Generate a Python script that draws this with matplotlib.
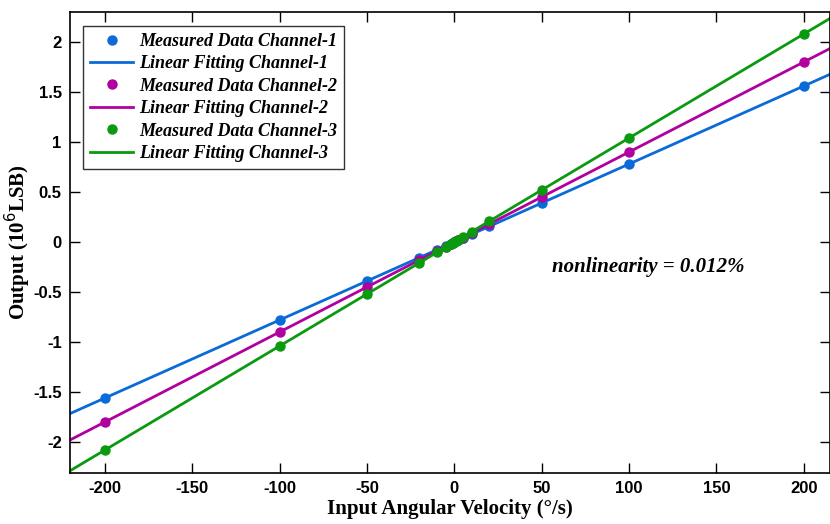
import numpy as np
import matplotlib.pyplot as plt

# input angular velocity (deg/s)
x_data = [-200, -100, -50, -20, -10, -5, -2, -1, 0, 1, 2, 5, 10, 20, 50, 100, 200]
# measured outputs (10^6 LSB)
ch1 = [-1.56, -0.78, -0.39, -0.156, -0.078, -0.039, -0.016, -0.008, 0.0,
       0.008, 0.016, 0.039, 0.078, 0.156, 0.39, 0.78, 1.56]
ch2 = [-1.80, -0.90, -0.45, -0.18, -0.09, -0.045, -0.018, -0.009, 0.0,
       0.009, 0.018, 0.045, 0.09, 0.18, 0.45, 0.90, 1.80]
ch3 = [-2.08, -1.04, -0.52, -0.208, -0.104, -0.052, -0.021, -0.010, 0.0,
       0.010, 0.021, 0.052, 0.104, 0.208, 0.52, 1.04, 2.08]
colors = ['#0a6bd8', '#b0009f', '#0a9a10']
names = ['Channel-1', 'Channel-2', 'Channel-3']

serif = ['Liberation Serif', 'DejaVu Serif']
sans = ['Liberation Sans', 'DejaVu Sans']

fig = plt.figure(figsize=(8.3, 5.24), dpi=100)
ax = fig.add_axes([0.0843, 0.0973, 0.9157, 0.8798])

xfit = np.array([-225, 225])
for y, c, n in zip([ch1, ch2, ch3], colors, names):
    k, b = np.polyfit(x_data, y, 1)
    ax.plot(x_data, y, 'o', color=c, markersize=6.5, label='Measured Data ' + n)
    ax.plot(xfit, k * xfit + b, '-', color=c, linewidth=2, label='Linear Fitting ' + n)

ax.set_xlim(-220, 215)
ax.set_ylim(-2.31, 2.3)
ax.set_xticks([-200, -150, -100, -50, 0, 50, 100, 150, 200])
ax.set_yticks([-2, -1.5, -1, -0.5, 0, 0.5, 1, 1.5, 2])
ax.set_yticklabels(['-2', '-1.5', '-1', '-0.5', '0', '0.5', '1', '1.5', '2'])
ax.set_xticklabels(['-200', '-150', '-100', '-50', '0', '50', '100', '150', '200'])
ax.tick_params(direction='in', top=True, right=True, length=7, width=1,
               labelsize=12, pad=6)
for lab in ax.get_xticklabels() + ax.get_yticklabels():
    lab.set_family(sans)
    lab.set_fontweight('bold')
for s in ax.spines.values():
    s.set_linewidth(1.2)

ax.set_xlabel('Input Angular Velocity (°/s)', family=serif, fontsize=15,
              fontweight='bold', labelpad=2)
ax.set_ylabel('Output (10$^6$LSB)', family=serif, fontsize=15,
              fontweight='bold', labelpad=0)

ax.text(111, -0.25, 'nonlinearity = 0.012%', family=serif, fontsize=15,
        fontweight='bold', style='italic', ha='center', va='center')

leg = ax.legend(loc='upper left', bbox_to_anchor=(0.005, 0.99), fancybox=False,
                edgecolor='#333333', framealpha=1, handlelength=2.4,
                borderpad=0.4, labelspacing=0.3, handletextpad=0.3,
                prop={'family': serif, 'style': 'italic', 'weight': 'bold', 'size': 13})
leg.get_frame().set_linewidth(1.0)

fig.savefig('out.png', dpi=100)
